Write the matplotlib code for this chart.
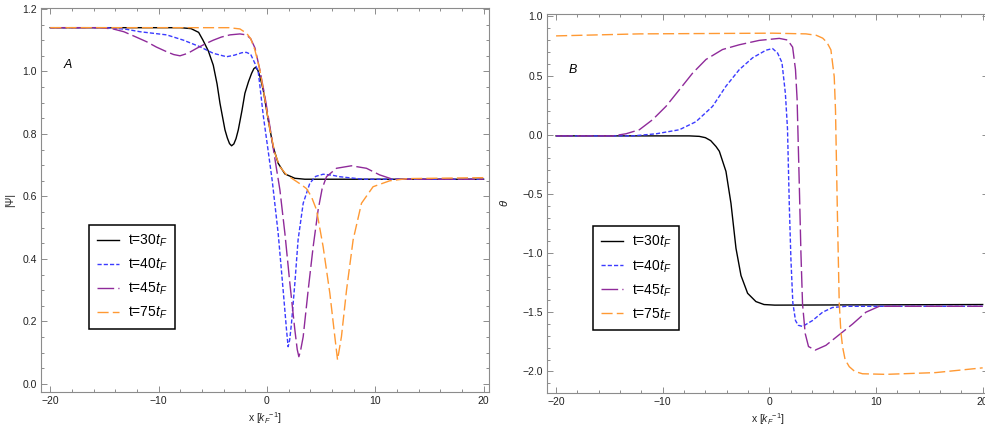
import matplotlib
matplotlib.use("Agg")
import matplotlib.pyplot as plt
from matplotlib.ticker import MultipleLocator

plt.rcParams['font.family'] = ['Liberation Sans', 'DejaVu Sans']
plt.rcParams['mathtext.fontset'] = 'custom'
plt.rcParams['mathtext.rm'] = 'Liberation Sans'
plt.rcParams['mathtext.it'] = 'Liberation Sans:italic'

labels = ['t=30$t_F$', 't=40$t_F$', 't=45$t_F$', 't=75$t_F$']

# panel A : |Psi|
psi30_x = [-20, -8, -7, -6.3, -5.9, -5.4, -4.95, -4.6, -4.33, -3.87, -3.65, -3.45, -3.26, -3.05, -2.85, -2.64,
           -2.3, -2.03, -1.7, -1.41, -1.2, -1.05, -0.85, -0.65, -0.34, 0.12, 0.58, 1.04, 1.66, 2.58, 3.5, 20]
psi30_y = [1.14, 1.14, 1.137, 1.125, 1.10, 1.065, 1.02, 0.96, 0.898, 0.813, 0.787, 0.769, 0.762, 0.768, 0.785, 0.813,
           0.875, 0.93, 0.967, 0.994, 1.009, 1.013, 1.005, 0.985, 0.941, 0.845, 0.759, 0.706, 0.672, 0.658, 0.655, 0.655]

psi40_x = [-20, -14.8, -13, -11.7, -9.25, -7.7, -6.18, -4.95, -3.72, -3.0, -2.3, -1.9, -1.5, -1.11, -0.8,
           -0.65, -0.34, 0.12, 0.5, 1.04, 1.5, 1.81, 1.96, 2.1, 2.27, 2.58, 2.88, 3.35, 3.96, 4.5, 5.19,
           6.0, 6.73, 8.88, 20]
psi40_y = [1.14, 1.14, 1.135, 1.127, 1.117, 1.10, 1.079, 1.058, 1.047, 1.052, 1.06, 1.061, 1.055, 1.026, 0.999,
           0.955, 0.86, 0.745, 0.648, 0.482, 0.30, 0.173, 0.119, 0.14, 0.194, 0.322, 0.461, 0.578, 0.642, 0.664, 0.671,
           0.668, 0.663, 0.655, 0.655]

psi45_x = [-20, -15.4, -14.2, -13.2, -12.2, -11.1, -10.2, -9.25, -8.6, -8.02, -7.3, -6.48, -5.7, -4.95, -4.2,
           -3.41, -2.49, -1.9, -1.5, -1.1, -0.65, -0.18, 0.28, 0.74, 1.2, 1.66, 2.12, 2.58, 2.8, 2.95, 3.1,
           3.35, 3.81, 4.27, 4.73, 5.1, 5.5, 6.42, 7.8, 9.19, 10.4, 11.6, 20]
psi45_y = [1.14, 1.14, 1.136, 1.127, 1.112, 1.095, 1.078, 1.063, 1.054, 1.05, 1.058, 1.074, 1.088, 1.10, 1.11,
           1.117, 1.12, 1.117, 1.105, 1.075, 1.005, 0.919, 0.823, 0.72, 0.621, 0.482, 0.322, 0.173, 0.11, 0.087, 0.105,
           0.151, 0.30, 0.439, 0.557, 0.625, 0.663, 0.69, 0.698, 0.69, 0.669, 0.655, 0.655]

psi75_x = [-20, -3.5, -2.49, -1.87, -1.5, -1.11, -0.65, -0.18, 0.28, 0.74, 1.2, 1.81, 2.42, 3.2, 3.65,
           4.1, 4.58, 5.19, 5.81, 6.27, 6.52, 6.88, 7.35, 7.96, 8.73, 9.8, 11.34, 13, 20]
psi75_y = [1.14, 1.14, 1.136, 1.122, 1.105, 1.069, 1.005, 0.909, 0.813, 0.738, 0.695, 0.669, 0.655, 0.637, 0.625,
           0.6, 0.557, 0.439, 0.29, 0.151, 0.077, 0.151, 0.30, 0.461, 0.578, 0.631, 0.65, 0.657, 0.66]

# panel B : theta
th30_x = [-20, -7.5, -6.57, -6.0, -5.5, -5.0, -4.69, -4.07, -3.6, -3.13, -2.66, -2.04, -1.26, -0.5, 0.5, 20]
th30_y = [-0.01, -0.01, -0.014, -0.025, -0.05, -0.1, -0.14, -0.31, -0.58, -0.96, -1.19, -1.34, -1.41, -1.435,
          -1.44, -1.435]

th40_x = [-20, -12.8, -10.6, -8.44, -6.88, -5.32, -4.07, -2.82, -1.57, -0.32, 0.3, 0.77, 1.18, 1.5, 1.7,
          1.87, 2.02, 2.2, 2.45, 2.7, 3.11, 4.05, 4.99, 5.92, 7.18, 20]
th40_y = [-0.01, -0.01, 0.008, 0.042, 0.11, 0.24, 0.41, 0.55, 0.65, 0.714, 0.728, 0.69, 0.61, 0.35, 0.05,
          -0.6, -1.05, -1.42, -1.57, -1.61, -1.62, -1.57, -1.50, -1.46, -1.45, -1.45]

th45_x = [-20, -14.7, -13.44, -12.19, -10.95, -9.69, -8.44, -7.2, -5.94, -4.39, -2.82, -0.95, 0.93, 1.71,
          2.18, 2.45, 2.6, 2.8, 2.96, 3.11, 3.36, 3.67, 4.3, 5.3, 6.55, 7.8, 9.05, 10.3, 20]
th45_y = [-0.01, -0.01, 0.008, 0.042, 0.127, 0.24, 0.38, 0.52, 0.636, 0.72, 0.76, 0.797, 0.814, 0.8,
          0.74, 0.55, 0.3, -0.4, -1.0, -1.43, -1.68, -1.79, -1.82, -1.78, -1.69, -1.60, -1.50, -1.45, -1.45]

th75_x = [-20, -12.2, 0.3, 3.43, 4.4, 5.0, 5.4, 5.77, 6.08, 6.2, 6.39, 6.55, 6.7, 6.86, 7.1, 7.49, 8.0,
          8.73, 10.93, 15.6, 20]
th75_y = [0.835, 0.852, 0.858, 0.852, 0.84, 0.816, 0.78, 0.717, 0.492, 0.21, -0.717, -1.42, -1.66, -1.79,
          -1.9, -1.96, -2.0, -2.02, -2.025, -2.01, -1.97]

colors = ['black', '#3b3bff', '#8f2a9a', '#ff9933']
dashes = [None, (3, 1.5), (12, 3), (8, 3)]

fig = plt.figure(figsize=(9.85, 4.3), dpi=100)
axA = fig.add_axes([41/985, 38/430, 448/985, 384/430])
axB = fig.add_axes([547/985, 37.3/430, 441/985, 378.7/430])

def draw(ax, xs, ys):
    for x, y, c, d, lab in zip(xs, ys, colors, dashes, labels):
        if d is None:
            ax.plot(x, y, color=c, lw=1.0, label=lab)
        else:
            ax.plot(x, y, color=c, lw=1.0, dashes=d, label=lab)

draw(axA, [psi30_x, psi40_x, psi45_x, psi75_x], [psi30_y, psi40_y, psi45_y, psi75_y])
draw(axB, [th30_x, th40_x, th45_x, th75_x], [th30_y, th40_y, th45_y, th75_y])

axA.set_xlim(-20.85, 20.5)
axA.set_ylim(-0.026, 1.203)
axB.set_xlim(-20.85, 20.5)
axB.set_ylim(-2.18, 1.02)

axA.yaxis.set_major_locator(MultipleLocator(0.2))
axA.yaxis.set_minor_locator(MultipleLocator(0.05))
axB.yaxis.set_major_locator(MultipleLocator(0.5))
axB.yaxis.set_minor_locator(MultipleLocator(0.1))

for ax in [axA, axB]:
    ax.xaxis.set_major_locator(MultipleLocator(10))
    ax.xaxis.set_minor_locator(MultipleLocator(2))
    ax.tick_params(which='both', direction='in', top=True, right=True, color='#8c8c8c',
                   labelsize=7.5, labelcolor='#222222', width=0.7, pad=3)
    ax.tick_params(which='major', length=4)
    ax.tick_params(which='minor', length=2)
    for s in ax.spines.values():
        s.set_color('#8c8c8c')
        s.set_linewidth(0.8)
    ax.set_xlabel('x [$k_F{}^{-1}$]', fontsize=7.5, color='#222222')
    ax.xaxis.set_label_coords(0.5, -0.048)

axA.set_ylabel('|Ψ|', fontsize=7.5, color='#222222')
axA.yaxis.set_label_coords(-0.058, 0.5)
axB.set_ylabel(r'$\theta$', fontsize=8, color='#222222')
axB.yaxis.set_label_coords(-0.084, 0.5)

axA.text(-18.8, 1.02, 'A', fontsize=9, style='italic', va='center')
axB.text(-18.85, 0.55, 'B', fontsize=9, style='italic', va='center')

for ax, anchor in [(axA, (0.107, 0.435)), (axB, (0.104, 0.439))]:
    leg = ax.legend(loc='upper left', bbox_to_anchor=anchor, borderaxespad=0, fontsize=10,
                    fancybox=False, framealpha=1, edgecolor='black', handlelength=1.6,
                    handletextpad=0.65, labelspacing=0.55, borderpad=0.55)
    leg.get_frame().set_linewidth(1.1)

fig.savefig('out.png', dpi=100)
